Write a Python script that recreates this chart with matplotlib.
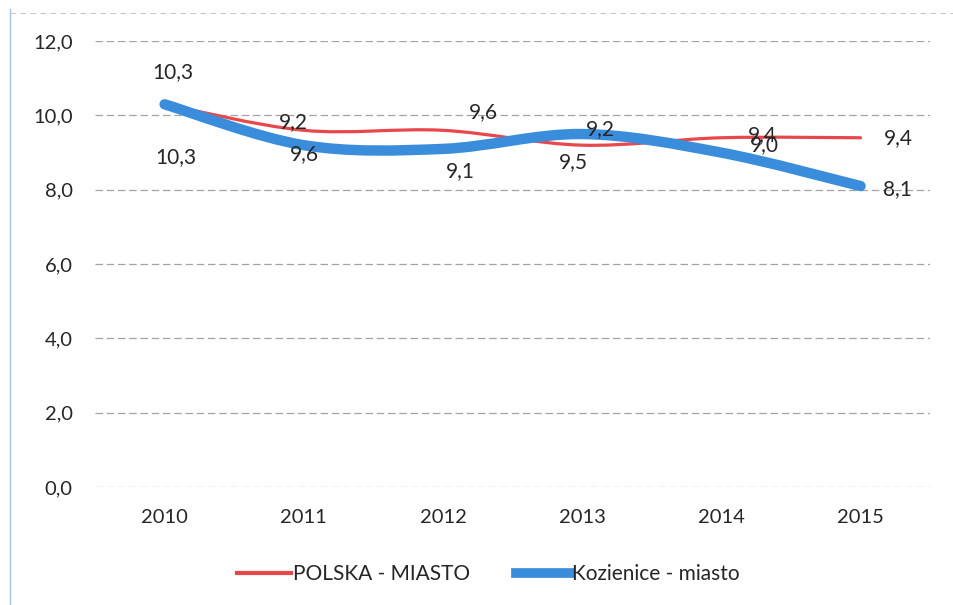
import numpy as np
import matplotlib.pyplot as plt
from matplotlib.path import Path
from matplotlib.patches import PathPatch
from matplotlib.lines import Line2D

years = ['2010', '2011', '2012', '2013', '2014', '2015']
polska_miasto = [10.3, 9.6, 9.6, 9.2, 9.4, 9.4]
kozienice_miasto = [10.3, 9.2, 9.1, 9.5, 9.0, 8.1]
y_ticks = [0, 2, 4, 6, 8, 10, 12]

# label offsets in pixels (dx, dy) from each point
polska_offsets = [(8, 32), (1, -24), (40, 18), (18, 16), (41, 3), (38, 0)]
kozienice_offsets = [(11, -53), (-10, 23), (17, -22), (-9, -28), (43, 8), (37, -3)]

RED = '#e8474c'
BLUE = '#3a8ddb'
TXT = '#262626'
FONT = 'Lato'


def smooth_path(xs, ys):
    # Catmull-Rom style bezier through the points, like a smoothed office chart line
    pts = np.column_stack([xs, ys]).astype(float)
    n = len(pts)
    verts = [pts[0]]
    codes = [Path.MOVETO]
    for i in range(n - 1):
        p0 = pts[i - 1] if i > 0 else pts[i]
        p1 = pts[i]
        p2 = pts[i + 1]
        p3 = pts[i + 2] if i + 2 < n else pts[i + 1]
        c1 = p1 + (p2 - p0) / 6.0
        c2 = p2 - (p3 - p1) / 6.0
        verts += [c1, c2, p2]
        codes += [Path.CURVE4] * 3
    return Path(verts, codes)


fig = plt.figure(figsize=(9.54, 6.05), dpi=100)
ax = fig.add_axes([0.0996, 0.195, 0.8754, 0.737])

x = np.arange(len(years))
ax.set_xlim(-0.5, len(years) - 0.5)
ax.set_ylim(0, 12)

ax.add_patch(PathPatch(smooth_path(x, polska_miasto), facecolor='none',
                       edgecolor=RED, lw=2.3, capstyle='round', zorder=3))
ax.add_patch(PathPatch(smooth_path(x, kozienice_miasto), facecolor='none',
                       edgecolor=BLUE, lw=7.5, capstyle='round', zorder=4))

for xi, v, off in zip(x, polska_miasto, polska_offsets):
    ax.annotate(f'{v:.1f}'.replace('.', ','), (xi, v), xytext=off,
                textcoords='offset pixels', ha='center', va='center',
                fontsize=15, family=FONT, color=TXT, zorder=5)
for xi, v, off in zip(x, kozienice_miasto, kozienice_offsets):
    ax.annotate(f'{v:.1f}'.replace('.', ','), (xi, v), xytext=off,
                textcoords='offset pixels', ha='center', va='center',
                fontsize=15, family=FONT, color=TXT, zorder=5)

ax.set_yticks(y_ticks)
ax.set_yticklabels([f'{t:.1f}'.replace('.', ',') for t in y_ticks],
                   fontsize=14.5, family=FONT, color=TXT)
ax.set_xticks(x)
ax.set_xticklabels(years, fontsize=14.5, family=FONT, color=TXT)
ax.tick_params(axis='both', length=0)
ax.tick_params(axis='y', pad=16)
ax.tick_params(axis='x', pad=16)
ax.grid(axis='y', color='#a3a3a3', lw=0.9, linestyle=(0, (6, 3)))
ax.set_axisbelow(True)
for s in ax.spines.values():
    s.set_visible(False)

handles = [Line2D([], [], color=RED, lw=3),
           Line2D([], [], color=BLUE, lw=7)]
fig.legend(handles, ['POLSKA - MIASTO', 'Kozienice - miasto'],
           loc='center', bbox_to_anchor=(0.512, 0.051), ncol=2, frameon=False,
           prop={'family': FONT, 'size': 15}, handlelength=2.6,
           handletextpad=0.1, columnspacing=2.2, labelcolor=TXT)

# faint frame edges of the chart area
fig.add_artist(Line2D([0.011, 0.011], [0.0, 0.985], color='#a9c2db', lw=1))
fig.add_artist(Line2D([0.011, 1.0], [0.979, 0.979], color='#c8c8c8', lw=0.8,
                      linestyle=(0, (5, 4))))

fig.savefig('out.png', dpi=100)
